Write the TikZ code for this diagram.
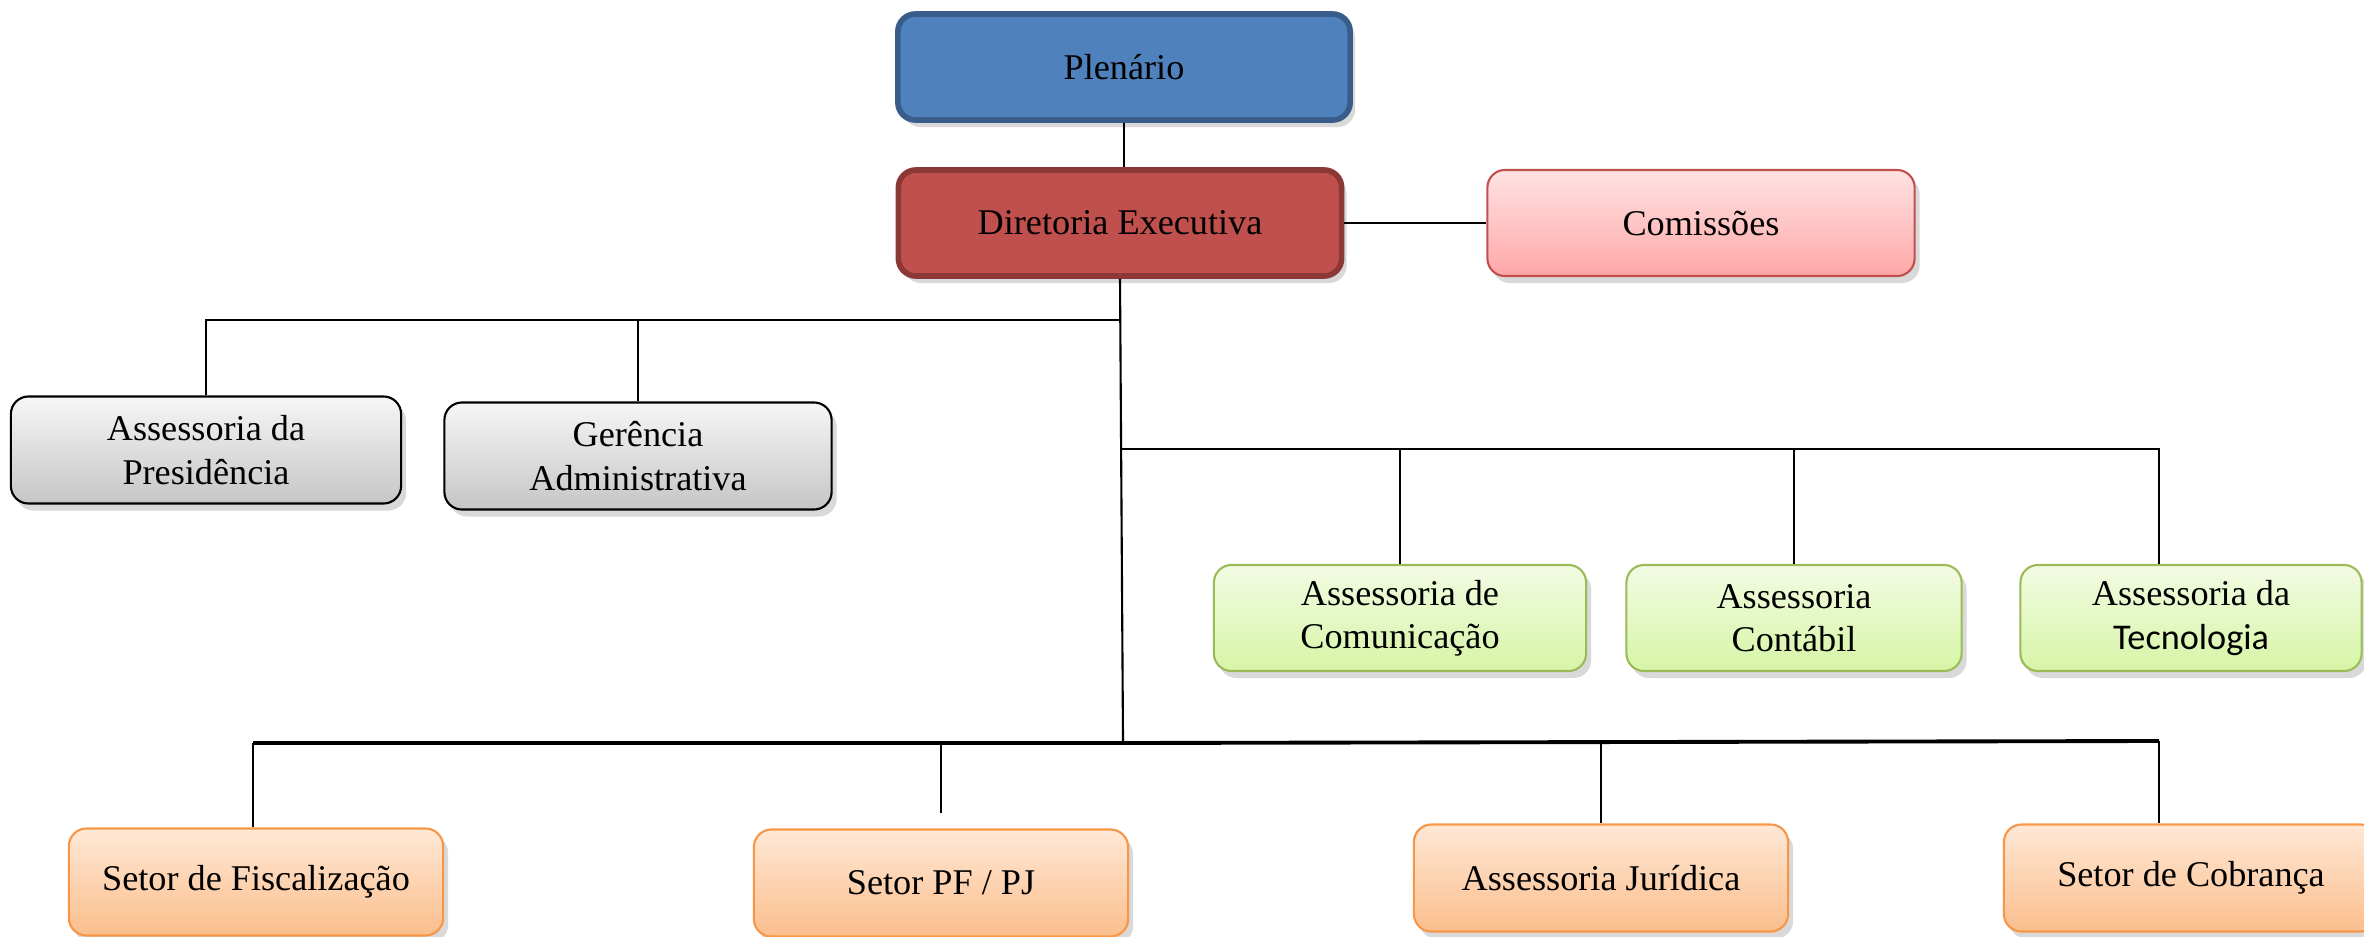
\documentclass[tikz,border=0pt]{standalone}
\usepackage{fontspec}
\setmainfont{Liberation Serif}
\newfontfamily\calfont{Carlito}
\usetikzlibrary{shadows}

\definecolor{plenfill}{HTML}{4F81BD}
\definecolor{plenline}{HTML}{385D8A}
\definecolor{dirfill}{HTML}{C0504D}
\definecolor{dirline}{HTML}{8C3836}
\definecolor{comtop}{HTML}{FFE3E3}
\definecolor{combot}{HTML}{FFA7A7}
\definecolor{greentop}{HTML}{F3FBE3}
\definecolor{greenbot}{HTML}{D6F5A6}
\definecolor{greenline}{HTML}{9BBB59}
\definecolor{orangetop}{HTML}{FFE8D6}
\definecolor{orangebot}{HTML}{FBBE8C}
\definecolor{orangeline}{HTML}{F79646}

\tikzset{
  unit/.style={rounded corners=5pt, align=center, inner sep=0pt,
    font=\fontsize{10.3}{12.3}\selectfont,
    drop shadow={opacity=0.3, shadow xshift=0.5mm, shadow yshift=-0.7mm}},
  plenbox/.style={unit, draw=plenline, fill=plenfill, line width=1.6pt},
  dirbox/.style={unit, draw=dirline, fill=dirfill, line width=1.6pt},
  combox/.style={unit, draw=dirfill, line width=0.6pt, top color=comtop, bottom color=combot},
  graybox/.style={unit, draw=black, line width=0.6pt, top color=gray!7, bottom color=gray!45},
  greenbox/.style={unit, draw=greenline, line width=0.6pt, top color=greentop, bottom color=greenbot},
  orangebox/.style={unit, draw=orangeline, line width=0.6pt, top color=orangetop, bottom color=orangebot},
  conn/.style={line width=0.6pt, black}
}

\begin{document}
\begin{tikzpicture}[x=0.01cm, y=-0.01cm]
		%%%%% START %%%%%
		\useasboundingbox (0,0) rectangle (2364,937);
		
		\node[plenbox, minimum width=4.52cm, minimum height=1.06cm] (plen) at (1124,67) {Plenário};
		\node[dirbox, minimum width=4.43cm, minimum height=1.06cm] (dir) at (1120,223) {Diretoria Executiva};
		\node[combox, minimum width=4.27cm, minimum height=1.06cm] (com) at (1701,223) {Comissões};
		
		\node[graybox, minimum width=3.90cm, minimum height=1.07cm] (apres) at (206,450) {Assessoria da\\Presidência};
		\node[graybox, minimum width=3.87cm, minimum height=1.07cm] (gadm) at (638,456) {Gerência\\Administrativa};
		
		\node[greenbox, minimum width=3.72cm, minimum height=1.06cm] (acom) at (1400,618) {Assessoria de\\Comunicação};
		\node[greenbox, minimum width=3.35cm, minimum height=1.06cm] (acont) at (1794,618) {Assessoria\\Contábil};
		\node[greenbox, minimum width=3.41cm, minimum height=1.06cm] (atec) at (2191,618) {Assessoria da\\{\calfont Tecnologia}};
		
		\node[orangebox, minimum width=3.74cm, minimum height=1.07cm] (sfis) at (256,882) {Setor de Fiscalização};
		\node[orangebox, minimum width=3.74cm, minimum height=1.07cm] (spf) at (941,883) {Setor PF / PJ};
		\node[orangebox, minimum width=3.74cm, minimum height=1.07cm] (ajur) at (1601,878) {Assessoria Jurídica};
		\node[orangebox, minimum width=3.74cm, minimum height=1.07cm] (scob) at (2191,878) {Setor de Cobrança};
		
		% trunk and junctions
		\coordinate (trunk) at (1123,741);
		\coordinate (busA) at (1120,320);
		\coordinate (busB) at (1121,449);
		\coordinate (busC) at (1123,743);
		\coordinate (busCleft) at (253,743);
		\coordinate (busCright) at (2159,741);
		
		\draw[conn] (plen.south) -- (plen.south |- dir.north);
		\draw[conn] (dir) -- (com);
		\draw[conn] (dir.south) -- (trunk);
		
		\draw[conn] (busA) -| (apres.north);
		\draw[conn] (busA) -| (gadm.north);
		
		\draw[conn] (busB) -| (acom.north);
		\draw[conn] (busB) -| (acont.north);
		\draw[conn] (busB) -| ([xshift=-0.32cm]atec.north);
		
		\draw[conn, line width=1.1pt] (busCleft) -- (busC) -- (busCright);
		\draw[conn] (busCleft) -- (busCleft |- sfis.north);
		\draw[conn] (busC) -| ([yshift=0.15cm]spf.north);
		\draw[conn] (busC) -| (ajur.north);
		\draw[conn] (busCright) -- (busCright |- scob.north);
		
		%%%%% END %%%%%
\end{tikzpicture}
\end{document}
